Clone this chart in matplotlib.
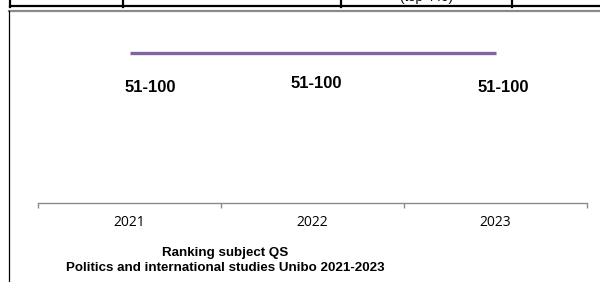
import matplotlib
matplotlib.use("Agg")
import matplotlib.pyplot as plt
from matplotlib.lines import Line2D

# Data
years = ["2021", "2022", "2023"]
rank_labels = ["51-100", "51-100", "51-100"]
plot_level = [1, 1, 1]  # constant band position (ranking 51-100 each year)
title_lines = ["Ranking subject QS", "Politics and international studies Unibo 2021-2023"]

W, H = 600, 282
fig = plt.figure(figsize=(W / 100, H / 100), dpi=100)
fig.patch.set_facecolor("white")

def fx(px):
    return px / W

def fy(py):
    return 1 - py / H

# Table fragment on top
fig.add_artist(Line2D([fx(10), 1], [fy(5.5), fy(5.5)], color="black", lw=1.6))
for xv in [10, 123, 341, 512]:
    fig.add_artist(Line2D([fx(xv), fx(xv)], [1, fy(7)], color="black", lw=1.6))
fig.text(fx(426), fy(3.5), "(top 440)", ha="center", va="bottom",
         fontsize=9.5, family="Liberation Sans")

# Chart frame
fig.add_artist(Line2D([fx(9), 1], [fy(11), fy(11)], color="#8a8a8a", lw=1.6))
fig.add_artist(Line2D([fx(9), fx(9)], [fy(11), 0], color="black", lw=0.9))

# Axes
left, right, top, bottom = 38, 587, 11, 203
ax = fig.add_axes([fx(left), fy(bottom), (right - left) / W, (bottom - top) / H])
ax.set_facecolor("none")
x = list(range(len(years)))
ax.plot(x, plot_level, color="#8064A2", lw=2.4, solid_capstyle="butt")
ax.set_xlim(-0.5, len(years) - 0.5)
ax.set_ylim(0, 1.28)

for s in ["top", "right", "left"]:
    ax.spines[s].set_visible(False)
ax.spines["bottom"].set_color("#8c8c8c")
ax.spines["bottom"].set_linewidth(1.0)
ax.set_yticks([])

ax.set_xticks([i - 0.5 for i in range(len(years) + 1)])
ax.set_xticklabels([])
ax.tick_params(axis="x", which="major", direction="out", length=3.8,
               color="#8c8c8c", width=1.0)
ax.set_xticks(x, minor=True)
ax.set_xticklabels(years, minor=True, fontsize=10, family="Open Sans")
ax.tick_params(axis="x", which="minor", length=0, pad=9)

offsets = [(20.5, -34), (3.5, -30), (7.5, -34)]
for xi, yi, lab, (dx, dy) in zip(x, plot_level, rank_labels, offsets):
    ax.annotate(lab, (xi, yi), xytext=(dx * 0.72, dy * 0.72), textcoords="offset points",
                ha="center", va="center", fontsize=12, fontweight="bold",
                family="Liberation Sans")

# Title at bottom
fig.text(fx(225), fy(253), title_lines[0], ha="center", va="center",
         fontsize=9.6, fontweight="bold", family="Liberation Sans")
fig.text(fx(225), fy(268), title_lines[1], ha="center", va="center",
         fontsize=9.6, fontweight="bold", family="Liberation Sans")

fig.savefig("out.png", dpi=100, facecolor="white")
